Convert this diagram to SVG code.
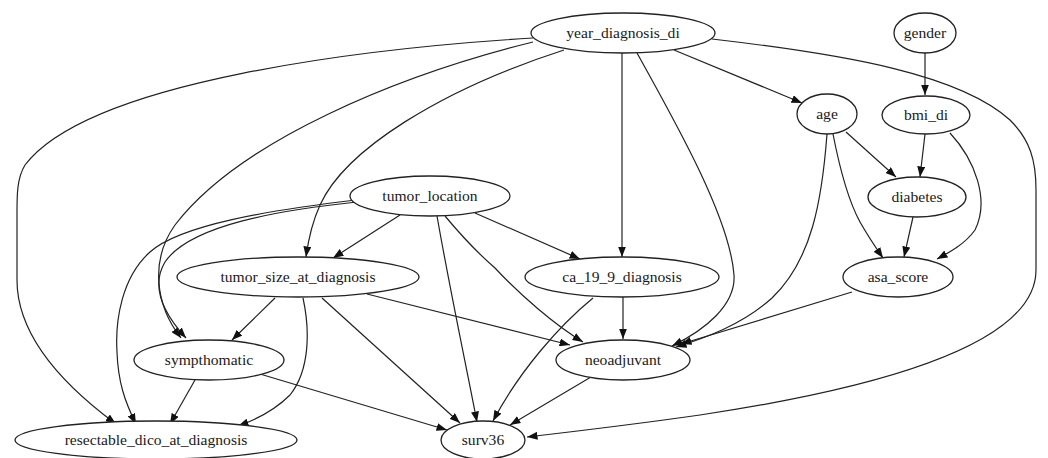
<svg xmlns="http://www.w3.org/2000/svg" width="1048" height="458" viewBox="0 0 1048 458">
<style>
.n ellipse{fill:#fff;stroke:#222;stroke-width:1.3}
.n text{font-size:15.6px;fill:#1a1a1a;text-anchor:middle}
.e path{fill:none;stroke:#222;stroke-width:1.2;marker-end:url(#arr)}
</style>
<defs>
<marker id="arr" markerWidth="11" markerHeight="8" refX="10.5" refY="4" orient="auto" markerUnits="userSpaceOnUse">
<path d="M0,0 L10.5,4 L0,8 z" fill="#111"/>
</marker>
</defs>
<rect width="1048" height="458" fill="#fff"/>
<g class="e" id="edges">
<path d="M533,38 C370,48 90,80 25,165 C17,178 17,195 17,212 L17,280 C17,340 70,390 116,424"/>
<path d="M533,42 C400,75 240,140 175,225 C150,260 155,305 181,338"/>
<path d="M564,50 C440,90 345,150 320,205 C311,225 308,242 306,257"/>
<path d="M622,53 L622,257"/>
<path d="M637,53 C680,130 730,220 734,275 C736,305 705,330 672,346"/>
<path d="M674,50 L802,103"/>
<path d="M712,39 C850,55 960,75 1010,120 C1030,140 1036,160 1036,190 L1036,270 C1036,340 900,385 700,415 C630,425 570,432 527,437"/>
<path d="M925,53 L925,95"/>
<path d="M846,132 L896,177"/>
<path d="M925,134 L920,177"/>
<path d="M833,134 C840,170 848,200 860,222 C868,236 876,248 883,258"/>
<path d="M827,134 C822,200 812,260 772,298 C742,325 705,338 676,347"/>
<path d="M852,292 L681,344"/>
<path d="M950,133 C975,160 990,200 975,230 C965,244 950,252 937,259"/>
<path d="M913,217 L904,257"/>
<path d="M475,213 L580,259"/>
<path d="M445,216 C465,240 480,255 495,268 C520,295 555,325 583,342"/>
<path d="M437,216 C450,290 465,360 477,422"/>
<path d="M400,215 L333,258"/>
<path d="M357,202 C280,210 190,225 165,262 C150,287 165,315 186,338"/>
<path d="M356,200 C270,210 180,225 150,252 C122,277 115,320 117,352 C118,382 125,402 136,424"/>
<path d="M367,294 L570,345"/>
<path d="M623,297 L623,339"/>
<path d="M593,298 C560,325 520,370 493,421"/>
<path d="M591,377 L510,425"/>
<path d="M322,298 L460,423"/>
<path d="M275,298 L232,340"/>
<path d="M303,298 C310,330 310,370 290,395 C275,410 255,420 238,426"/>
<path d="M195,380 L170,424"/>
<path d="M260,374 L447,430"/>
</g>
<g class="n" font-family="'Liberation Serif', 'Times New Roman', Times, serif">
<g id="year_diagnosis_di"><ellipse cx="623" cy="33" rx="92" ry="20"/><text x="623" y="38">year_diagnosis_di</text></g>
<g id="gender"><ellipse cx="925" cy="33" rx="31" ry="20"/><text x="925" y="38">gender</text></g>
<g id="age"><ellipse cx="827" cy="114" rx="30" ry="20"/><text x="827" y="119">age</text></g>
<g id="bmi_di"><ellipse cx="926" cy="115" rx="44" ry="19"/><text x="926" y="120">bmi_di</text></g>
<g id="diabetes"><ellipse cx="917" cy="197" rx="49" ry="20"/><text x="917" y="202">diabetes</text></g>
<g id="asa_score"><ellipse cx="898" cy="277" rx="55" ry="20"/><text x="898" y="282">asa_score</text></g>
<g id="tumor_location"><ellipse cx="430" cy="196" rx="80" ry="20"/><text x="430" y="201">tumor_location</text></g>
<g id="tumor_size_at_diagnosis"><ellipse cx="298" cy="277" rx="121" ry="20"/><text x="298" y="282">tumor_size_at_diagnosis</text></g>
<g id="ca_19_9_diagnosis"><ellipse cx="622" cy="277" rx="97" ry="20"/><text x="622" y="282">ca_19_9_diagnosis</text></g>
<g id="sympthomatic"><ellipse cx="209" cy="360" rx="75" ry="20"/><text x="209" y="365">sympthomatic</text></g>
<g id="neoadjuvant"><ellipse cx="623" cy="360" rx="67" ry="20"/><text x="623" y="365">neoadjuvant</text></g>
<g id="resectable_dico_at_diagnosis"><ellipse cx="156" cy="440" rx="141" ry="19"/><text x="156" y="445">resectable_dico_at_diagnosis</text></g>
<g id="surv36"><ellipse cx="483" cy="440" rx="42" ry="19"/><text x="483" y="445">surv36</text></g>
</g>
</svg>
